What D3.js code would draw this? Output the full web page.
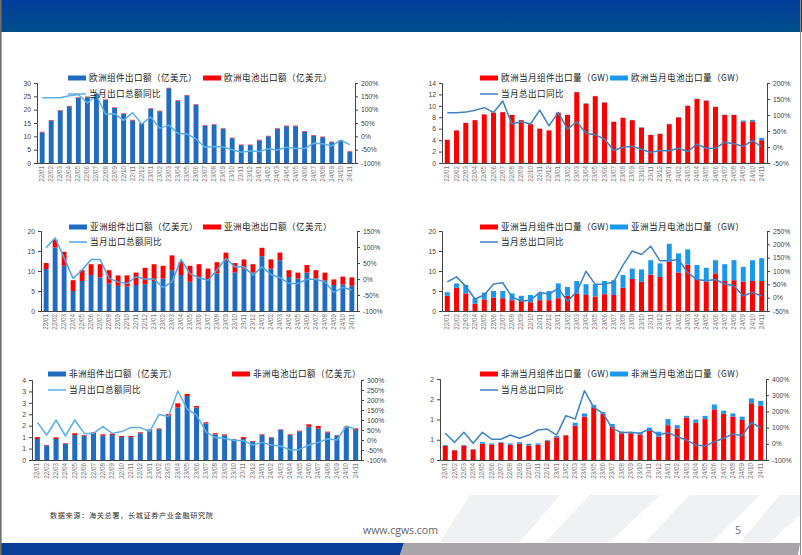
<!DOCTYPE html>
<html><head><meta charset="utf-8">
<script src="https://cdn.jsdelivr.net/npm/d3@7"></script>
<style>
html,body{margin:0;padding:0;background:#fff;}
svg{display:block;font-family:"Noto Sans CJK SC","Noto Sans",sans-serif;}
</style></head>
<body><svg id="s" width="802" height="555"></svg>
<script>
const months = ["22/01","22/02","22/03","22/04","22/05","22/06","22/07","22/08","22/09","22/10","22/11","22/12",
"23/01","23/02","23/03","23/04","23/05","23/06","23/07","23/08","23/09","23/10","23/11","23/12",
"24/01","24/02","24/03","24/04","24/05","24/06","24/07","24/08","24/09","24/10","24/11"];

// Europe, value (亿美元)
const euModuleVal = [11.5,15.9,19.6,21.2,24.4,24.7,25.8,23.6,20.7,18.4,16.0,14.8,20.3,19.4,28.0,23.3,25.3,21.8,14.0,14.3,12.8,9.3,6.7,6.7,8.5,10.0,12.8,13.8,13.8,11.8,10.3,9.7,7.8,8.3,4.2];
const euCellVal   = [0.2,0.2,0.2,0.2,0.2,0.2,0.2,0.2,0.2,0.2,0.2,0.2,0.2,0.2,0.2,0.2,0.2,0.2,0.2,0.2,0.2,0.2,0.2,0.2,0.2,0.2,0.2,0.2,0.2,0.2,0.2,0.2,0.2,0.2,0.2];
const euYoyVal    = [145,145,145,152,157,125,154,83,85,60,89,46,73,30,42,11,9,-10,-41,-38,-40,-50,-60,-55,-57,-47,-51,-41,-46,-46,-26,-28,-36,-14,-31];

// Europe, volume (GW)
const euModuleGw = [4.05,5.7,7.0,7.5,8.5,8.8,8.9,8.4,7.5,6.8,6.0,5.7,8.8,8.4,12.4,10.4,11.7,10.6,7.2,7.9,7.5,6.2,4.9,5.1,6.8,8.0,10.0,11.2,10.9,9.8,8.4,8.4,7.2,7.3,4.0];
const euCellGw   = [0.03,0.03,0.03,0.03,0.03,0.03,0.03,0.03,0.03,0.03,0.03,0.03,0.04,0.04,0.04,0.04,0.04,0.04,0.04,0.04,0.04,0.04,0.04,0.04,0.05,0.05,0.05,0.05,0.05,0.05,0.05,0.05,0.25,0.25,0.4];
const euYoyGw    = [107,107,109,115,123,108,144,72,79,72,115,66,108,56,79,43,38,25,-11,-1,2,-7,-17,-11,-12,-4,-14,9,-4,-4,15,10,2,20,0];

// Asia, value (亿美元)
const asiaModuleVal = [10.5,15.9,11.3,5.0,7.5,9.0,8.4,6.9,6.3,6.1,6.5,6.7,7.5,8.1,10.2,9.0,7.3,8.5,8.0,9.4,12.5,9.6,10.6,9.6,13.7,10.6,12.7,8.5,8.1,9.6,8.1,7.6,6.5,6.6,6.3];
const asiaCellVal   = [1.5,1.9,3.5,2.7,2.7,2.7,3.3,3.3,2.6,2.8,3.1,4.1,4.2,3.2,3.7,3.3,4.0,3.2,2.6,2.8,2.1,2.4,2.3,2.1,2.1,2.3,1.9,1.7,1.5,1.9,2.1,2.0,1.4,2.0,2.1];
const asiaYoyVal    = [98,128,66,2,28,61,61,2,-9,-14,7,0,0,-27,-9,61,17,4,-4,28,64,38,38,12,38,14,4,-14,-14,-1,-1,-9,-42,-26,-35];

// Asia, volume (GW)
const asiaModuleGw = [3.8,5.8,4.4,1.8,2.9,3.3,3.2,2.7,2.5,2.2,2.7,2.7,3.2,3.8,4.4,4.0,3.6,4.2,4.0,5.8,8.0,7.3,9.1,8.5,12.3,9.6,11.6,8.0,7.3,9.4,7.5,7.7,7.3,7.5,7.5];
const asiaCellGw   = [0.9,1.1,2.1,1.4,1.7,1.7,1.8,1.7,1.3,1.8,1.8,2.3,3.7,2.2,3.1,2.7,3.1,3.3,3.7,3.2,2.6,3.1,3.6,3.4,4.5,4.8,3.8,3.5,3.5,3.3,4.2,5.0,3.7,5.2,5.7];
const asiaYoyGw    = [59,78,43,-5,10,51,56,3,-13,-9,20,13,35,-13,22,99,50,50,59,122,175,162,193,138,138,143,94,68,63,68,51,45,6,20,6];

// Africa, value (亿美元)
const afModuleVal = [0.92,0.63,0.92,0.70,1.09,1.06,1.18,1.06,1.09,1.0,1.0,1.17,1.32,1.35,1.94,2.3,2.8,2.3,1.6,1.12,1.08,0.9,0.92,0.8,1.09,0.98,1.32,1.09,1.25,1.46,1.38,1.2,1.07,1.43,1.31];
const afCellVal   = [0.08,0.03,0.07,0.03,0.08,0.03,0.03,0.06,0.06,0.05,0.05,0.04,0.02,0.03,0.07,0.18,0.09,0.06,0.05,0.05,0.04,0.02,0.08,0.03,0.03,0.02,0.02,0.03,0.03,0.10,0.11,0.04,0.02,0.03,0.07];
const afYoyVal    = [88,25,100,20,100,33,33,67,33,42,63,62,42,128,117,245,155,125,42,12,8,-3,-3,-25,-12,-25,-30,-50,-47,-25,-12,5,0,70,53];

// Africa, volume (GW)
const afModuleGw = [0.35,0.24,0.35,0.26,0.40,0.38,0.42,0.38,0.40,0.36,0.38,0.47,0.56,0.61,0.85,1.07,1.30,1.14,0.82,0.66,0.66,0.63,0.72,0.58,0.86,0.78,1.05,0.92,1.01,1.25,1.14,1.07,0.99,1.40,1.34];
const afCellGw   = [0.02,0.01,0.02,0.01,0.04,0.03,0.02,0.03,0.04,0.04,0.03,0.02,0.03,0.01,0.07,0.08,0.06,0.04,0.07,0.04,0.04,0.05,0.08,0.12,0.15,0.08,0.04,0.08,0.08,0.12,0.08,0.08,0.08,0.12,0.12];
const afYoyGw    = [65,9,71,3,71,28,28,54,34,54,85,91,54,174,153,328,225,188,95,69,69,65,91,54,69,44,23,-7,-14,13,34,61,50,130,100];

const leftTicks1 = [0,5,10,15,20,25,30];
const rightTicks1 = [-100,-50,0,50,100,150,200];
const leftTicks2 = [0,2,4,6,8,10,12,14];
const rightTicks2 = [-50,0,50,100,150,200];
const leftTicks3 = [0,5,10,15,20];
const rightTicks3 = [-100,-50,0,50,100,150];
const leftTicks4 = [0,5,10,15,20];
const rightTicks4 = [-50,0,50,100,150,200,250];
const leftTicks5 = [0,0.5,1,1.5,2,2.5,3,3.5];
const rightTicks5 = [-100,-50,0,50,100,150,200,250,300];
const leftTicks6 = [0,0.5,1,1.5,2];
const rightTicks6 = [-100,0,100,200,300,400];

const svg = d3.select("#s");

// ---------- slide frame ----------
const defs = svg.append("defs");
const gr = defs.append("linearGradient").attr("id","hdr").attr("x1",0).attr("y1",0).attr("x2",0).attr("y2",1);
gr.append("stop").attr("offset","0%").attr("stop-color","#003d9b");
gr.append("stop").attr("offset","100%").attr("stop-color","#004e8b");
svg.append("rect").attr("x",0).attr("y",0).attr("width",802).attr("height",32).attr("fill","url(#hdr)");

// faint watermark stripes in footer
const wm = svg.append("g").attr("fill","#f0f1f5");
wm.append("path").attr("d","M470,495 L560,495 L520,542 L440,542 Z");
wm.append("path").attr("d","M590,495 L660,495 L610,542 L545,542 Z");
wm.append("path").attr("d","M690,495 L760,495 L712,542 L645,542 Z");
wm.append("path").attr("d","M780,495 L800,495 L800,515 L770,542 L740,542 Z");

// bottom bar
svg.append("path").attr("d","M0,543 L404,543 L400,555 L0,555 Z").attr("fill","#0b3f97");
svg.append("path").attr("d","M404,543 L800,543 L798,555 L400,555 Z").attr("fill","#a8a4a7");
svg.append("line").attr("x1",0.8).attr("x2",0.8).attr("y1",0).attr("y2",555).attr("stroke","#6e6e6e").attr("stroke-width",1.6);
svg.append("line").attr("x1",800.5).attr("x2",800.5).attr("y1",0).attr("y2",555).attr("stroke","#8a8a8a").attr("stroke-width",1);

svg.append("text").attr("x",50).attr("y",518).attr("font-size",7.2).attr("fill","#333")
  .attr("letter-spacing",0.6).text("数据来源：海关总署，长城证券产业金融研究院");
svg.append("text").attr("x",363).attr("y",534).attr("font-size",10.5).attr("fill","#666")
  .attr("font-family","'Open Sans',sans-serif").text("www.cgws.com");
svg.append("text").attr("x",735).attr("y",534).attr("font-size",10.5).attr("fill","#777")
  .attr("font-family","'Open Sans',sans-serif").text("5");

// ---------- chart drawer ----------
const BLUE = "#1f6cc0", RED = "#ff0000", LBLUE = "#1a98ee";

function drawChart(c){
  const g = svg.append("g");
  const x = d3.scaleBand().domain(months).range([c.x0, c.x1]).paddingInner(0.46).paddingOuter(0.3);
  const yL = d3.scaleLinear().domain([c.lTicks[0], c.lTicks[c.lTicks.length-1]]).range([c.yBot, c.yTop]);
  const yR = d3.scaleLinear().domain([c.rTicks[0], c.rTicks[c.rTicks.length-1]]).range([c.yBot, c.yTop]);

  // bottom series
  g.selectAll(".b1").data(months).join("rect")
    .attr("x", m => x(m)).attr("width", x.bandwidth())
    .attr("y", (m,i) => yL(c.s1[i])).attr("height", (m,i) => yL(0) - yL(c.s1[i]))
    .attr("fill", c.c1);
  // stacked top series
  g.selectAll(".b2").data(months).join("rect")
    .attr("x", m => x(m)).attr("width", x.bandwidth())
    .attr("y", (m,i) => yL(c.s1[i] + c.s2[i])).attr("height", (m,i) => yL(c.s1[i]) - yL(c.s1[i] + c.s2[i]))
    .attr("fill", c.c2);

  // axes
  const ax = g.append("g").attr("transform",`translate(${c.x0},0)`)
    .call(d3.axisLeft(yL).tickValues(c.lTicks).tickSize(3).tickPadding(3).tickFormat(c.lFmt));
  const ar = g.append("g").attr("transform",`translate(${c.x1},0)`)
    .call(d3.axisRight(yR).tickValues(c.rTicks).tickSize(3).tickPadding(3).tickFormat(d => d + "%"));
  const ab = g.append("g").attr("transform",`translate(0,${c.yBot})`)
    .call(d3.axisBottom(x).tickSize(0).tickPadding(0));
  [ax, ar, ab].forEach(a => {
    a.select(".domain").attr("stroke","#444").attr("stroke-width",1);
    a.selectAll(".tick line").attr("stroke","#444");
    a.selectAll("text").attr("fill","#444").attr("font-size",6.8);
  });
  ab.selectAll("text").attr("font-size",6.3).attr("fill","#777")
    .attr("text-anchor","end").attr("dy","0.32em")
    .attr("transform","translate(0,3) rotate(-90)").attr("y",0).attr("x",0);

  // line
  const line = d3.line().x((d,i) => x(months[i]) + x.bandwidth()/2).y(d => yR(d));
  g.append("path").datum(c.yoy).attr("d", line).attr("fill","none")
    .attr("stroke", c.lc).attr("stroke-width",1.5).attr("stroke-linejoin","round");

  // legend
  const lg = g.append("g").attr("font-size",8.6).attr("fill","#222");
  lg.append("rect").attr("x",c.lx1).attr("y",c.ly1-2.5).attr("width",18).attr("height",5).attr("fill",c.c1);
  lg.append("text").attr("x",c.lx1+21).attr("y",c.ly1).attr("dy","0.35em").attr("letter-spacing",0.4).text(c.n1);
  lg.append("rect").attr("x",c.lx2).attr("y",c.ly1-2.5).attr("width",18).attr("height",5).attr("fill",c.c2);
  lg.append("text").attr("x",c.lx2+21).attr("y",c.ly1).attr("dy","0.35em").attr("letter-spacing",0.4).text(c.n2);
  lg.append("line").attr("x1",c.lx1).attr("x2",c.lx1+18).attr("y1",c.ly2).attr("y2",c.ly2).attr("stroke",c.lc).attr("stroke-width",1.5);
  lg.append("text").attr("x",c.lx1+21).attr("y",c.ly2).attr("dy","0.35em").attr("letter-spacing",0.4).text(c.n3);
}

const intFmt = d => d3.format("d")(d);
const roundFmt = d => String(Math.round(d));

drawChart({x0:37,x1:355,yTop:83,yBot:163,lTicks:leftTicks1,rTicks:rightTicks1,lFmt:intFmt,
  s1:euModuleVal,s2:euCellVal,yoy:euYoyVal,c1:BLUE,c2:RED,lc:"#5cb0ea",
  lx1:68,lx2:203,ly1:78,ly2:94,n1:"欧洲组件出口额（亿美元）",n2:"欧洲电池出口额（亿美元）",n3:"当月出口总额同比"});
drawChart({x0:442,x1:767,yTop:83,yBot:163,lTicks:leftTicks2,rTicks:rightTicks2,lFmt:intFmt,
  s1:euModuleGw,s2:euCellGw,yoy:euYoyGw,c1:RED,c2:LBLUE,lc:"#3c82c4",
  lx1:480,lx2:610,ly1:78,ly2:94,n1:"欧洲当月组件出口量（GW）",n2:"欧洲当月电池出口量（GW）",n3:"当月总出口同比"});
drawChart({x0:41,x1:357,yTop:231,yBot:311,lTicks:leftTicks3,rTicks:rightTicks3,lFmt:intFmt,
  s1:asiaModuleVal,s2:asiaCellVal,yoy:asiaYoyVal,c1:BLUE,c2:RED,lc:"#4ea6e6",
  lx1:69,lx2:203,ly1:227,ly2:242,n1:"亚洲组件出口额（亿美元）",n2:"亚洲电池出口额（亿美元）",n3:"当月出口总额同比"});
drawChart({x0:442,x1:767,yTop:231,yBot:311,lTicks:leftTicks4,rTicks:rightTicks4,lFmt:intFmt,
  s1:asiaModuleGw,s2:asiaCellGw,yoy:asiaYoyGw,c1:RED,c2:LBLUE,lc:"#3c82c4",
  lx1:480,lx2:610,ly1:227,ly2:242,n1:"亚洲当月组件出口量（GW）",n2:"亚洲当月电池出口量（GW）",n3:"当月总出口同比"});
drawChart({x0:32,x1:361,yTop:380,yBot:460,lTicks:leftTicks5,rTicks:rightTicks5,lFmt:roundFmt,
  s1:afModuleVal,s2:afCellVal,yoy:afYoyVal,c1:BLUE,c2:RED,lc:"#5cb0ea",
  lx1:48,lx2:232,ly1:374,ly2:390,n1:"非洲组件出口额（亿美元）",n2:"非洲电池出口额（亿美元）",n3:"当月出口总额同比"});
drawChart({x0:440,x1:766,yTop:379,yBot:460,lTicks:leftTicks6,rTicks:rightTicks6,lFmt:roundFmt,
  s1:afModuleGw,s2:afCellGw,yoy:afYoyGw,c1:RED,c2:LBLUE,lc:"#3c82c4",
  lx1:480,lx2:610,ly1:374,ly2:390,n1:"非洲当月组件出口量（GW）",n2:"非洲当月电池出口量（GW）",n3:"当月总出口同比"});
</script></body></html>
